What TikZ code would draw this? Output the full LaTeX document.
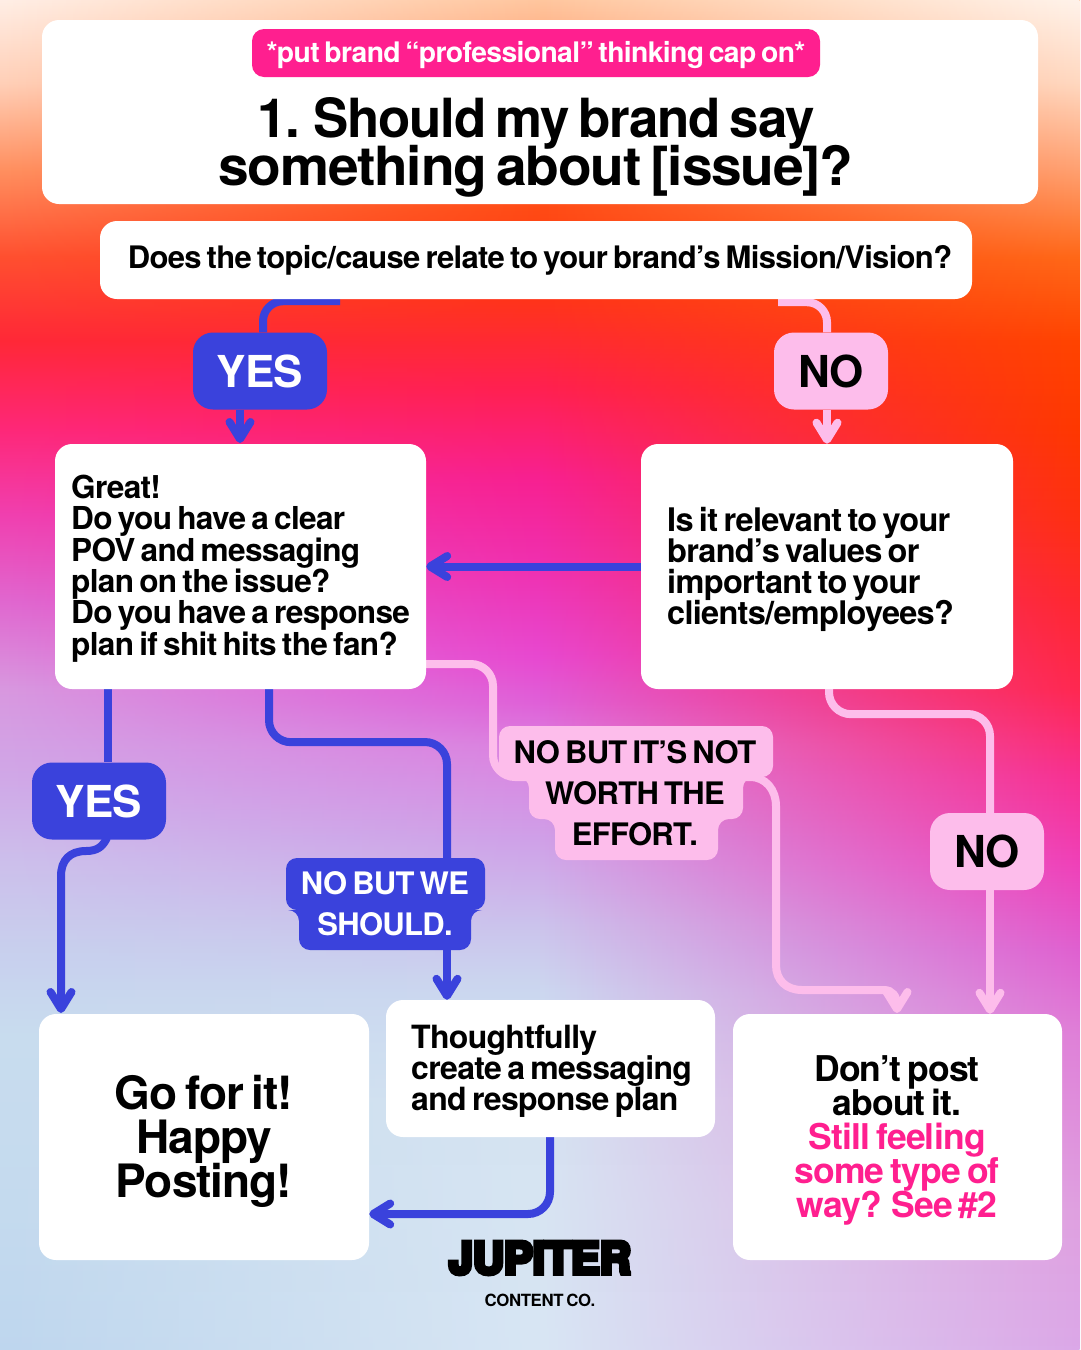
\documentclass[tikz,border=0pt]{standalone}
\usepackage{fontspec}
\usepackage{graphicx}
\usetikzlibrary{arrows.meta,fadings}
\setmainfont{TeX Gyre Heros}[LetterSpace=-2.2,WordSpace=0.65]
\newfontfamily\jupfont[FakeBold=10]{TeX Gyre Heros Bold}
\newcommand{\fsz}[2]{\fontsize{#1}{#2}\selectfont\bfseries\lineskiplimit=-60pt\relax}
\newcommand{\dc}[2]{\definecolor{#1}{HTML}{#2}}
\dc{jblue}{3A42DC}\dc{jpink}{FDBDEB}\dc{jhot}{FF1F8F}
\pgfdeclarelayer{back}\pgfdeclarelayer{mid}\pgfsetlayers{back,mid,main}
\dc{la}{FFF0E8}\dc{lb}{FFD0B8}\dc{lc}{FF9060}\dc{ld}{FF5030}\dc{le}{FF2838}\dc{lf}{FF2878}\dc{lg}{F040B0}\dc{lh}{E068D0}\dc{li}{D898E0}\dc{lj}{D0A8E8}\dc{lk}{CCC0EC}\dc{ll}{C8D0EE}\dc{lm}{C8DCEE}\dc{ln}{C4DAEE}\dc{lo}{BED6EE}
\dc{ra}{FFF4EC}\dc{rb}{FFD8C0}\dc{rc}{FFA070}\dc{rd}{FF6818}\dc{re}{FF4400}\dc{rf}{FF3800}\dc{rg}{FF3010}\dc{rh}{FF2830}\dc{ri}{FF2850}\dc{rj}{F83090}\dc{rk}{F040B8}\dc{rl}{E060D0}\dc{rm}{E080D8}\dc{rn}{E0A0E0}\dc{ro}{DCA8E8}
\dc{ca}{FFC8A0}\dc{cb}{FF4A14}\dc{cc}{FF3418}\dc{cd}{FF2050}\dc{ce}{F82090}\dc{cf}{F030B0}\dc{cg}{E848D0}\dc{ch}{E060D8}\dc{ci}{DC80E0}\dc{cj}{D0A0E8}\dc{ck}{CCC4EC}\dc{cl}{CCD8F0}\dc{cm}{D6E4F2}\dc{cn}{D8E6F4}
\pgfdeclareverticalshading{colL}{100bp}{color(0bp)=(lo); color(25bp)=(lo); color(30.3bp)=(ln); color(36.7bp)=(lm); color(39.9bp)=(ll); color(43.1bp)=(lk); color(46.3bp)=(lj); color(49.5bp)=(li); color(52.7bp)=(lh); color(55.9bp)=(lg); color(59.1bp)=(lf); color(62.3bp)=(le); color(65.4bp)=(ld); color(68.6bp)=(lc); color(71.8bp)=(lb); color(75bp)=(la); color(100bp)=(la)}
\pgfdeclareverticalshading{colR}{100bp}{color(0bp)=(ro); color(25bp)=(ro); color(30.3bp)=(rn); color(36.7bp)=(rm); color(39.9bp)=(rl); color(43.1bp)=(rk); color(46.3bp)=(rj); color(49.5bp)=(ri); color(52.7bp)=(rh); color(55.9bp)=(rg); color(59.1bp)=(rf); color(62.3bp)=(re); color(65.4bp)=(rd); color(68.6bp)=(rc); color(71.8bp)=(rb); color(75bp)=(ra); color(100bp)=(ra)}
\pgfdeclareverticalshading{colC}{100bp}{color(0bp)=(cn); color(25bp)=(cn); color(34.3bp)=(cm); color(38.3bp)=(cl); color(40.7bp)=(ck); color(44bp)=(cj); color(47.4bp)=(ci); color(49bp)=(ch); color(50.7bp)=(cg); color(54bp)=(cf); color(57.3bp)=(ce); color(60.6bp)=(cd); color(63.9bp)=(cc); color(67.2bp)=(cb); color(75bp)=(ca); color(100bp)=(ca)}
\tikzfading[name=fadeLR,left color=transparent!100,right color=transparent!0]
\tikzset{
  x=1pt,y=-1pt,
  whitebox/.style={fill=white,rounded corners=17pt,inner sep=0pt,anchor=center},
  boxtext/.style={inner sep=0pt,text=black,align=center,anchor=center},
  lefttext/.style={inner sep=0pt,text=black,align=left,anchor=west},
  bluetag/.style={fill=jblue,rounded corners=20pt,inner sep=0pt,text=white,anchor=center,minimum height=77pt,font=\fsz{44}{44}},
  pinktag/.style={fill=jpink,rounded corners=20pt,inner sep=0pt,text=black,anchor=center,minimum height=77pt,font=\fsz{44}{44}},
  conn/.style={line width=8pt,rounded corners=22pt},
  blueln/.style={conn,draw=jblue},
  pinkln/.style={conn,draw=jpink},
  barb/.style={-{Straight Barb[length=17pt,width=21pt,round]}},
  steptext/.style={inner sep=0pt,align=center,anchor=center},
}
\begin{document}
\begin{tikzpicture}
\useasboundingbox (0,0) rectangle (1080,1350);
\begin{pgfonlayer}{back}
  \shade[shading=colL] (0,-4) rectangle (540.5,1354);
  \shade[shading=colC,path fading=fadeLR] (0,-4) rectangle (540.5,1354);
  \shade[shading=colC] (540,-4) rectangle (1080,1354);
  \shade[shading=colR,path fading=fadeLR] (540,-4) rectangle (1080,1354);
\end{pgfonlayer}

% white boxes
\node[whitebox,minimum width=996pt,minimum height=184pt] (title) at (540,112) {};
\node[fill=jhot,rounded corners=12pt,inner sep=0pt,minimum width=568pt,minimum height=48pt] (tag) at (536,53) {};
\node[boxtext,text=white,font=\fsz{28.3}{28}] (tagtext) at (536,55) {*put brand “professional” thinking cap on*};
\node[boxtext,font=\fsz{54}{48}] (titletext) at (536,147) {\scalebox{.979}[1]{1. Should my brand say}\\\scalebox{1.021}[1]{something about [issue]?}};
\node[whitebox,minimum width=872pt,minimum height=78pt] (q) at (536,260) {};
\node[boxtext,font=\fsz{31}{31}] (qtext) at (540,260) {Does the topic/cause relate to your brand’s Mission/Vision?};

\node[bluetag,minimum width=134pt] (yesA) at (260,371) {YES};
\node[pinktag,minimum width=114pt] (noA) at (831,371) {NO};
\node[whitebox,minimum width=371pt,minimum height=245pt] (great) at (240.5,566.5) {};
\node[lefttext,font=\fsz{31.6}{31.4}] (greattext) at (71,568.5) {Great!\\Do you have a clear\\POV and messaging\\plan on the issue?\\Do you have a response\\plan if shit hits the fan?};
\node[whitebox,minimum width=372pt,minimum height=245pt] (rel) at (827,566.5) {};
\node[lefttext,font=\fsz{32.5}{31}] (reltext) at (667,569.5) {Is it relevant to your\\brand’s values or\\important to your\\clients/employees?};
\node[bluetag,minimum width=134pt] (yesB) at (99,801) {YES};
\node[pinktag,minimum width=114pt] (noB) at (987,851.5) {NO};
\node[whitebox,minimum width=330pt,minimum height=246pt] (go) at (204,1137) {};
\node[boxtext,font=\fsz{46}{44}] (gotext) at (204,1141.5) {Go for it!\\Happy\\Posting!};
\node[whitebox,minimum width=329pt,minimum height=137pt] (plan) at (550.5,1068.5) {};
\node[lefttext,font=\fsz{32}{31}] (plantext) at (411,1071.5) {Thoughtfully\\create a messaging\\and response plan};
\node[whitebox,minimum width=329pt,minimum height=246pt] (dont) at (897.5,1137) {};
\node[boxtext,font=\fsz{35.5}{34}] (donttext) at (897,1140) {Don’t post\\about it.\\\textcolor{jhot}{Still feeling}\\\textcolor{jhot}{some type of}\\\textcolor{jhot}{way? See \#2}};

% stepped labels
\fill[jblue,rounded corners=11pt] (286,858) -- (485,858) -- (485,910) -- (471,910) -- (471,950) -- (299,950) -- (299,910) -- (286,910) -- cycle;
\node[steptext,text=white,font=\fsz{31}{41}] (should) at (385,904) {NO BUT WE\\SHOULD.};
\fill[jpink,rounded corners=11pt] (499,726) -- (773,726) -- (773,777) -- (743,777) -- (743,819) -- (718,819) -- (718,860) -- (555,860) -- (555,819) -- (529,819) -- (529,777) -- (499,777) -- cycle;
\node[steptext,text=black,font=\fsz{31}{41}] (worth) at (635,793) {NO BUT IT’S NOT\\WORTH THE\\EFFORT.};

% logo
\node[inner sep=0pt] (jup) at (540,1258) {\resizebox{182pt}{32pt}{\jupfont JUPITER}};
\node[inner sep=0pt,font=\fsz{16.8}{17}] (cco) at (540,1300) {CONTENT CO.};

\coordinate (wIn) at (530,777);
\coordinate (wOut) at (742,777);

\begin{pgfonlayer}{mid}
  \draw[blueln,rounded corners=20pt] ([xshift=-196pt,yshift=-2pt]q.south) -| ([xshift=3pt]yesA.north);
  \draw[blueln,barb] (yesA.south -| 240,0) -- (240,443);
  \draw[pinkln,rounded corners=20pt] ([xshift=242pt,yshift=-3pt]q.south) -| ([xshift=-4pt]noA.north);
  \draw[pinkln,barb] ([xshift=-4pt]noA.south) -- ([xshift=-4pt,yshift=-34pt]noA.south);
  \draw[blueln,barb] (rel.west) -- (great.east);
  \draw[blueln] ([xshift=-132.5pt]great.south) -- ([xshift=9pt]yesB.north);
  \draw[blueln,barb,rounded corners=0pt] ([xshift=8pt,yshift=2pt]yesB.south) .. controls (103,846) and (98,851) .. (86,851) .. controls (70,851) and (61,860) .. (61,876) -- (61,1013);
  \draw[blueln] ([xshift=28.5pt]great.south) -- ++(0,53) -- (447,742) -- ([xshift=62pt]should.north |- 0,858);
  \draw[blueln,barb] (447,950) -- (plan.north -| 447,0);
  \draw[pinkln] ([yshift=-97.5pt]great.east) -- (493,664) -- (493,777) -- (wIn);
  \draw[pinkln,barb,rounded corners=0pt] (wOut) -- (750,777) .. controls (766,777) and (776,790) .. (776,806) -- (776,965) .. controls (776,980) and (786,990) .. (802,990) -- (884,990) .. controls (892,990) and (897,996) .. (897,1013);
  \draw[pinkln] ([xshift=2pt]rel.south) -- ++(0,25) -- (990,714) -- ([xshift=3pt]noB.north);
  \draw[pinkln,barb] ([xshift=3pt]noB.south) -- ([xshift=92.5pt]dont.north);
  \draw[blueln,barb] (plan.south -| 550,0) -- (550,1214) -- (go.east |- 0,1214);
\end{pgfonlayer}
\end{tikzpicture}
\end{document}
